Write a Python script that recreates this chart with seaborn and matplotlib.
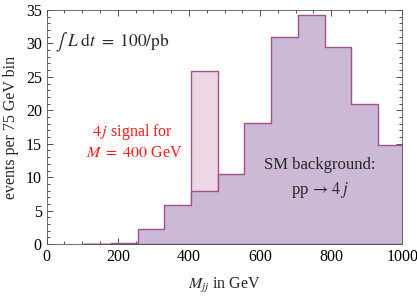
import numpy as np
import pandas as pd
import matplotlib
matplotlib.use("Agg")
import matplotlib.pyplot as plt
from matplotlib.ticker import MultipleLocator
import seaborn as sns

# data
bin_edges = [106, 181, 256, 331, 406, 481, 556, 631, 706, 781, 856, 931, 1006]
background = [0.05, 0.1, 2.2, 5.8, 7.9, 10.5, 18.1, 30.9, 34.3, 29.4, 21.0, 14.8]
signal = [0, 0, 0, 0, 18.0, 0, 0, 0, 0, 0, 0, 0]

sns.set_style("ticks")
plt.rcParams["font.family"] = ["Liberation Serif", "DejaVu Serif"]
plt.rcParams["mathtext.fontset"] = "stix"

edges = np.array(bin_edges, dtype=float)
centers = (edges[:-1] + edges[1:]) / 2
df = pd.DataFrame({"m": centers, "bg": background,
                   "total": np.array(background) + np.array(signal),
                   "sig": signal})
df_sig = df[df["sig"] > 0]

fig = plt.figure(figsize=(4.17, 3.01), dpi=100)
ax = fig.add_axes([0.112, 0.189, 0.853, 0.778])

edge_col = "#a0508c"
# signal stacked on top of background
sns.histplot(data=df_sig, x="m", weights="total", bins=list(bin_edges),
             element="bars", fill=True, color="#edd7e4", edgecolor=edge_col,
             linewidth=1.0, alpha=1, ax=ax, zorder=1)
sns.histplot(data=df, x="m", weights="bg", bins=list(bin_edges),
             element="step", fill=True, color="#cbb9d6", edgecolor=edge_col,
             linewidth=1.0, alpha=1, ax=ax, zorder=2)

ax.set_xlim(0, 1000)
ax.set_ylim(0, 35)
ax.xaxis.set_major_locator(MultipleLocator(200))
ax.xaxis.set_minor_locator(MultipleLocator(50))
ax.yaxis.set_major_locator(MultipleLocator(5))
ax.yaxis.set_minor_locator(MultipleLocator(1))
ax.tick_params(which="both", direction="in", top=True, right=True,
               labelsize=11.5, colors="#333333", labelcolor="black", width=0.6)
ax.tick_params(which="major", length=4)
ax.tick_params(which="minor", length=2)
for s in ax.spines.values():
    s.set_linewidth(0.6)
    s.set_color("#555555")

ax.set_xlabel(r"$M_{jj}$ in GeV", fontsize=11.5, labelpad=8)
ax.set_ylabel("events per 75 GeV bin", fontsize=11.5, labelpad=5)

ax.text(23, 30.2, r"$\int\ L\ \mathrm{d}t\ =\ 100/\mathrm{pb}$", fontsize=12.5,
        ha="left", va="center")
ax.text(240, 16.8, r"$4\,j$ signal for", color="#ff1a1a", fontsize=11.5,
        ha="center", va="center")
ax.text(248, 13.6, r"$M\ =\ 400$ GeV", color="#ff1a1a", fontsize=11.5,
        ha="center", va="center")
ax.text(768, 11.8, "SM background:", fontsize=12, ha="center", va="center")
ax.text(768, 8.1, r"pp$\,\rightarrow\,4\,j$", fontsize=12, ha="center", va="center")

fig.savefig("out.png", dpi=100)
